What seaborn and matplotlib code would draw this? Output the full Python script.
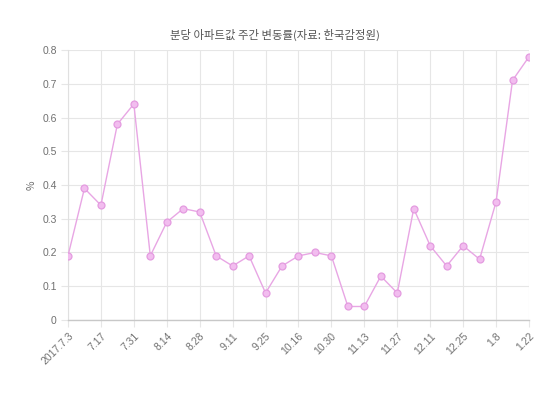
import matplotlib
matplotlib.use("Agg")
import matplotlib.pyplot as plt
import seaborn as sns
import pandas as pd

dates = ["2017.7.3", "7.10", "7.17", "7.24", "7.31", "8.7", "8.14", "8.21", "8.28",
         "9.4", "9.11", "9.18", "9.25", "10.9", "10.16", "10.23", "10.30", "11.6",
         "11.13", "11.20", "11.27", "12.4", "12.11", "12.18", "12.25", "1.1", "1.8",
         "1.15", "1.22"]
values = [0.19, 0.39, 0.34, 0.58, 0.64, 0.19, 0.29, 0.33, 0.32,
          0.19, 0.16, 0.19, 0.08, 0.16, 0.19, 0.20, 0.19, 0.04,
          0.04, 0.13, 0.08, 0.33, 0.22, 0.16, 0.22, 0.18, 0.35,
          0.71, 0.78]
y_ticks = [0, 0.1, 0.2, 0.3, 0.4, 0.5, 0.6, 0.7, 0.8]
y_tick_labels = ["0", "0.1", "0.2", "0.3", "0.4", "0.5", "0.6", "0.7", "0.8"]
title = "분당 아파트값 주간 변동률(자료: 한국감정원)"

sns.set_theme(style="white")
plt.rcParams['font.family'] = ['Noto Sans CJK KR', 'DejaVu Sans']

df = pd.DataFrame({"x": range(len(dates)), "v": values})

fig = plt.figure(figsize=(5.5, 3.95), dpi=100)
ax = fig.add_axes([0.1236, 0.1899, 0.9618 - 0.1236, 0.8734 - 0.1899])

sns.lineplot(data=df, x="x", y="v", ax=ax, color="#e8a6e4", linewidth=1.0,
             marker="o", markersize=5, markerfacecolor="#f2bdef",
             markeredgecolor="#e49be0", markeredgewidth=0.9, zorder=3)

ax.set_xlim(0, len(dates) - 1)
ax.set_ylim(0, 0.8)
tick_pos = list(range(0, len(dates), 2))
ax.set_xticks(tick_pos)
ax.set_xticklabels([dates[i] for i in tick_pos], rotation=45, ha="right",
                   rotation_mode="anchor", fontsize=7.5, color="#707070",
                   family=["Liberation Sans", "DejaVu Sans"])
ax.set_yticks(y_ticks)
ax.set_yticklabels(y_tick_labels, fontsize=7.5, color="#707070",
                   family=["Liberation Sans", "DejaVu Sans"])

ax.grid(True, color="#e6e6e6", linewidth=0.8)
ax.set_axisbelow(True)
for s in ["top", "right"]:
    ax.spines[s].set_visible(False)
ax.spines["left"].set_color("#e0e0e0")
ax.spines["left"].set_linewidth(0.8)
ax.spines["bottom"].set_color("#c8c8c8")
ax.spines["bottom"].set_linewidth(1.0)
ax.tick_params(axis="both", which="major", length=5, width=0.8, color="#e6e6e6",
               bottom=True, left=True, pad=3)

ax.set_xlabel("")
ax.set_ylabel("%", fontsize=7.5, color="#707070", labelpad=4)
fig.text(0.5, 0.912, title, ha="center", va="center", fontsize=8.2,
         color="#555555", fontweight="medium")

fig.savefig("out.png", dpi=100, facecolor="white")
